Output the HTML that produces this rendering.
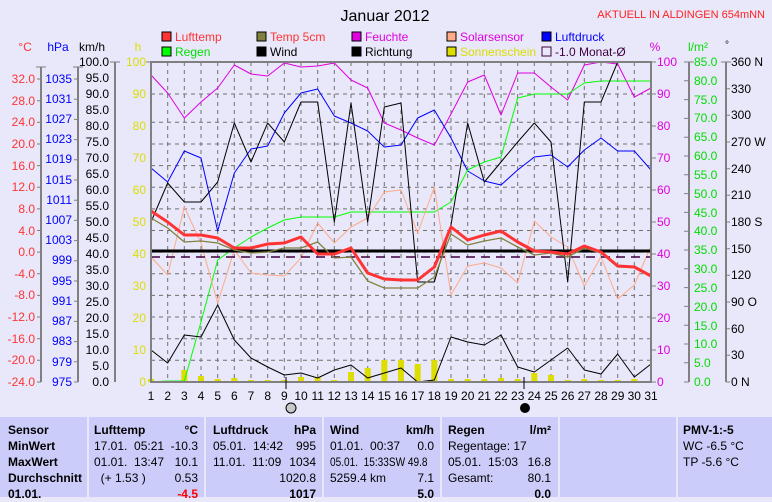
<!DOCTYPE html>
<html><head><meta charset="utf-8"><style>
html,body{margin:0;padding:0}
body{width:772px;height:490px;overflow:hidden;background:#e8e8fa;font-family:"Liberation Sans",sans-serif;position:relative}
svg{position:absolute;left:0;top:0}
.t{position:absolute;font-size:12px;white-space:nowrap;color:#000}
.b{font-weight:bold}
.r{text-align:right}
.cell{position:absolute;top:417px;height:80px;background:#ccccfa}
</style></head><body>
<svg width="772" height="420" viewBox="0 0 772 420" font-family="Liberation Sans, sans-serif">
<text x="385" y="21" font-size="16" text-anchor="middle">Januar 2012</text>
<text x="765" y="18" font-size="11" fill="#ff2020" text-anchor="end">AKTUELL IN ALDINGEN 654mNN</text>
<g font-size="12">
<rect x="162" y="32" width="9" height="9" fill="#ff3333" stroke="#000"/><text x="175" y="41" fill="#ff3333">Lufttemp</text>
<rect x="257" y="32" width="9" height="9" fill="#808040" stroke="#000"/><text x="270" y="41" fill="#ff3333">Temp 5cm</text>
<rect x="352" y="32" width="9" height="9" fill="#e000e0" stroke="#000"/><text x="365" y="41" fill="#e000e0">Feuchte</text>
<rect x="447" y="32" width="9" height="9" fill="#ffaa88" stroke="#000"/><text x="460" y="41" fill="#e000e0">Solarsensor</text>
<rect x="542" y="32" width="9" height="9" fill="#0000ff" stroke="#000"/><text x="555" y="41" fill="#0000ff">Luftdruck</text>
<rect x="162" y="47" width="9" height="9" fill="#00ff00" stroke="#000"/><text x="175" y="56" fill="#00dd00">Regen</text>
<rect x="257" y="47" width="9" height="9" fill="#000" stroke="#000"/><text x="270" y="56">Wind</text>
<rect x="352" y="47" width="9" height="9" fill="#000" stroke="#000"/><text x="365" y="56">Richtung</text>
<rect x="447" y="47" width="9" height="9" fill="#dddd00" stroke="#000"/><text x="460" y="56" fill="#dddd00">Sonnenschein</text>
<rect x="542" y="47" width="9" height="9" fill="none" stroke="#400040"/><text x="555" y="56" fill="#400040">-1.0 Monat-Ø</text>
</g>
<g font-size="12">
<text x="25" y="51" fill="#ff3333" text-anchor="middle">°C</text>
<text x="58" y="51" fill="#0000ff" text-anchor="middle">hPa</text>
<text x="92" y="51" text-anchor="middle">km/h</text>
<text x="138" y="51" fill="#dddd00" text-anchor="middle">h</text>
<text x="655" y="51" fill="#e000e0" text-anchor="middle">%</text>
<text x="698" y="51" fill="#00dd00" text-anchor="middle">l/m²</text>
<text x="727" y="48" text-anchor="middle" font-size="10">°</text>
</g>
<g stroke="#808080" stroke-width="2">
<line x1="41" y1="67" x2="41" y2="382"/><line x1="78" y1="67" x2="78" y2="382"/><line x1="115" y1="62" x2="115" y2="382"/>
<line x1="689" y1="62" x2="689" y2="382"/><line x1="726" y1="62" x2="726" y2="382"/>
</g>
<g stroke="#707070" stroke-width="1" stroke-dasharray="4,4" fill="none">
<path d="M151 94H651M151 122.3H651M151 144H651M151 165.6H651M151 187.2H651M151 208.9H651M151 230.5H651M151 252.1H651M151 273.8H651M151 295.4H651M151 317H651M151 338.7H651M151 360.3H651"/>
<path d="M167.7 62V382M184.3 62V382M201 62V382M217.7 62V382M234.3 62V382M251 62V382M267.7 62V382M284.3 62V382M301 62V382M317.7 62V382M334.3 62V382M351 62V382M367.7 62V382M384.3 62V382M401 62V382M417.7 62V382M434.3 62V382M451 62V382M467.7 62V382M484.3 62V382M501 62V382M517.7 62V382M534.3 62V382M551 62V382M567.7 62V382M584.3 62V382M601 62V382M617.7 62V382M634.3 62V382"/>
</g>
<g transform="translate(134.333,0) scale(16.6667,1)" fill="none" stroke-linejoin="round">
<g fill="#dddd00">
<rect x="0.82" y="379" width="0.36" height="3"/><rect x="2.82" y="370" width="0.36" height="12"/><rect x="3.82" y="376" width="0.36" height="6"/><rect x="4.82" y="379" width="0.36" height="3"/><rect x="5.82" y="378" width="0.36" height="4"/><rect x="6.82" y="380" width="0.36" height="2"/><rect x="7.82" y="380" width="0.36" height="2"/><rect x="8.82" y="380" width="0.36" height="2"/><rect x="9.82" y="377" width="0.36" height="5"/><rect x="10.82" y="377" width="0.36" height="5"/><rect x="11.82" y="380" width="0.36" height="2"/><rect x="12.82" y="372" width="0.36" height="10"/><rect x="13.82" y="368" width="0.36" height="14"/><rect x="14.82" y="360" width="0.36" height="22"/><rect x="15.82" y="360" width="0.36" height="22"/><rect x="16.82" y="364" width="0.36" height="18"/><rect x="17.82" y="360" width="0.36" height="22"/><rect x="18.82" y="379" width="0.36" height="3"/><rect x="19.82" y="379" width="0.36" height="3"/><rect x="20.82" y="379" width="0.36" height="3"/><rect x="21.82" y="378" width="0.36" height="4"/><rect x="22.82" y="379" width="0.36" height="3"/><rect x="23.82" y="373" width="0.36" height="9"/><rect x="24.82" y="375" width="0.36" height="7"/><rect x="25.82" y="380" width="0.36" height="2"/><rect x="26.82" y="379" width="0.36" height="3"/><rect x="27.82" y="380" width="0.36" height="2"/><rect x="28.82" y="380" width="0.36" height="2"/><rect x="29.82" y="379" width="0.36" height="3"/>
</g>
<polyline vector-effect="non-scaling-stroke" stroke="#e000e0" stroke-width="1" points="1,75 2,93 3,118 4,102 5,88 6,65 7,74 8,76 9,63 10,67 11,66 12,63 13,80 14,88 15,123 16,130 17,138 18,145 19,114 20,82 21,75 22,115 23,73 24,73 25,87 26,100 27,65 28,62 29,64 30,97 31,88"/>
<polyline vector-effect="non-scaling-stroke" stroke="#0000ff" stroke-width="1" points="1,168 2,182 3,151 4,158 5,231 6,173 7,149 8,146 9,113 10,93 11,89 12,116 13,123 14,131 15,147 16,145 17,118 18,110 19,138 20,171 21,181 22,185 23,170 24,157 25,155 26,167 27,150 28,138 29,151 30,151 31,170"/>
<polyline vector-effect="non-scaling-stroke" stroke="#00ff00" stroke-width="1" points="1,382 2,381 3,381 4,322 5,260 6,248 7,237 8,228 9,220 10,217 11,217 12,217 13,212 14,212 15,212 16,212 17,212 18,212 19,202 20,170 21,162 22,157 23,98 24,94 25,94 26,94 27,83 28,81 29,81 30,81 31,81"/>
<polyline vector-effect="non-scaling-stroke" stroke="#ffaa88" stroke-width="1" points="1,257 2,275 3,207 4,243 5,303 6,250 7,273 8,275 9,276 10,258 11,223 12,243 13,227 14,218 15,192 16,190 17,233 18,187 19,295 20,266 21,263 22,268 23,283 24,221 25,237 26,247 27,286 28,257 29,299 30,285 31,246"/>
<polyline vector-effect="non-scaling-stroke" stroke="#000" stroke-width="1" points="1,222 2,183 3,202 4,202 5,182 6,123 7,162 8,123 9,142 10,102 11,102 12,222 13,103 14,222 15,107 16,103 17,282 18,282 19,225 20,123 21,182 22,162 23,142 24,123 25,142 26,282 27,102 28,102 29,62 30,62 31,62"/>
<polyline vector-effect="non-scaling-stroke" stroke="#000" stroke-width="1" points="1,350 2,363 3,335 4,337 5,305 6,340 7,358 8,367 9,375 10,373 11,378 12,370 13,365 14,378 15,373 16,368 17,382 18,380 19,337 20,342 21,345 22,335 23,367 24,372 25,360 26,348 27,370 28,374 29,354 30,377 31,364"/>
<line vector-effect="non-scaling-stroke" x1="1" y1="257" x2="31" y2="257" stroke="#400040" stroke-width="1.5" stroke-dasharray="9,6"/>
<line vector-effect="non-scaling-stroke" x1="1" y1="251" x2="31" y2="251" stroke="#000" stroke-width="3"/>
<polyline vector-effect="non-scaling-stroke" stroke="#808040" stroke-width="1.3" points="1,218 2,228 3,242 4,241 5,243 6,250 7,253 8,252 9,248 10,248 11,242 12,258 13,257 14,281 15,288 16,288 17,288 18,277 19,234 20,245 21,241 22,238 23,247 24,255 25,253 26,257 27,248 28,253 29,267 30,267 31,276"/>
<polyline vector-effect="non-scaling-stroke" stroke="#ff3333" stroke-width="3" points="1,211 2,222 3,235 4,235 5,238 6,248 7,248 8,244 9,243 10,237 11,254 12,254 13,248 14,273 15,279 16,280 17,280 18,267 19,227 20,240 21,235 22,231 23,242 24,251 25,252 26,254 27,246 28,252 29,266 30,267 31,276"/>
</g>
<rect x="151" y="62" width="500" height="320" fill="none" stroke="#808080" stroke-width="2"/>
<line x1="286" y1="377" x2="286" y2="389" stroke="#000"/><line x1="524" y1="377" x2="524" y2="389" stroke="#000"/>
<circle cx="291" cy="408" r="5" fill="#c8c8c8" stroke="#000"/>
<circle cx="525" cy="408" r="5" fill="#000"/>
<g font-size="12" text-anchor="middle">
<text x="151" y="400">1</text><text x="167.7" y="400">2</text><text x="184.3" y="400">3</text><text x="201" y="400">4</text><text x="217.7" y="400">5</text><text x="234.3" y="400">6</text><text x="251" y="400">7</text><text x="267.7" y="400">8</text><text x="284.3" y="400">9</text><text x="301" y="400">10</text><text x="317.7" y="400">11</text><text x="334.3" y="400">12</text><text x="351" y="400">13</text><text x="367.7" y="400">14</text><text x="384.3" y="400">15</text><text x="401" y="400">16</text><text x="417.7" y="400">17</text><text x="434.3" y="400">18</text><text x="451" y="400">19</text><text x="467.7" y="400">20</text><text x="484.3" y="400">21</text><text x="501" y="400">22</text><text x="517.7" y="400">23</text><text x="534.3" y="400">24</text><text x="551" y="400">25</text><text x="567.7" y="400">26</text><text x="584.3" y="400">27</text><text x="601" y="400">28</text><text x="617.7" y="400">29</text><text x="634.3" y="400">30</text><text x="651" y="400">31</text>
</g>
<g font-size="12">
<g fill="#ff3333" text-anchor="end">
<text x="35" y="83">32.0</text><text x="35" y="105">28.0</text><text x="35" y="126">24.0</text><text x="35" y="148">20.0</text><text x="35" y="170">16.0</text><text x="35" y="191">12.0</text><text x="35" y="213">8.0</text><text x="35" y="235">4.0</text><text x="35" y="256">0.0</text><text x="35" y="278">-4.0</text><text x="35" y="299">-8.0</text><text x="35" y="321">-12.0</text><text x="35" y="343">-16.0</text><text x="35" y="364">-20.0</text><text x="35" y="386">-24.0</text>
</g>
<g fill="#0000ff" text-anchor="end">
<text x="72" y="83">1035</text><text x="72" y="103">1031</text><text x="72" y="123">1027</text><text x="72" y="143">1023</text><text x="72" y="163">1019</text><text x="72" y="184">1015</text><text x="72" y="204">1011</text><text x="72" y="224">1007</text><text x="72" y="244">1003</text><text x="72" y="264">999</text><text x="72" y="285">995</text><text x="72" y="305">991</text><text x="72" y="325">987</text><text x="72" y="345">983</text><text x="72" y="366">979</text><text x="72" y="386">975</text>
</g>
<g text-anchor="end">
<text x="109" y="66">100.0</text><text x="109" y="82">95.0</text><text x="109" y="98">90.0</text><text x="109" y="114">85.0</text><text x="109" y="130">80.0</text><text x="109" y="146">75.0</text><text x="109" y="162">70.0</text><text x="109" y="178">65.0</text><text x="109" y="194">60.0</text><text x="109" y="210">55.0</text><text x="109" y="226">50.0</text><text x="109" y="242">45.0</text><text x="109" y="258">40.0</text><text x="109" y="274">35.0</text><text x="109" y="290">30.0</text><text x="109" y="306">25.0</text><text x="109" y="322">20.0</text><text x="109" y="338">15.0</text><text x="109" y="354">10.0</text><text x="109" y="370">5.0</text><text x="109" y="386">0.0</text>
</g>
<g fill="#dddd00" text-anchor="end">
<text x="146" y="66">100</text><text x="146" y="98">90</text><text x="146" y="130">80</text><text x="146" y="162">70</text><text x="146" y="194">60</text><text x="146" y="226">50</text><text x="146" y="258">40</text><text x="146" y="290">30</text><text x="146" y="322">20</text><text x="146" y="354">10</text><text x="146" y="386">0</text>
</g>
<g fill="#e000e0">
<text x="657" y="66">100</text><text x="657" y="98">90</text><text x="657" y="130">80</text><text x="657" y="162">70</text><text x="657" y="194">60</text><text x="657" y="226">50</text><text x="657" y="258">40</text><text x="657" y="290">30</text><text x="657" y="322">20</text><text x="657" y="354">10</text><text x="657" y="386">0</text>
</g>
<g fill="#00dd00">
<text x="694" y="66">85.0</text><text x="694" y="85">80.0</text><text x="694" y="104">75.0</text><text x="694" y="122">70.0</text><text x="694" y="141">65.0</text><text x="694" y="160">60.0</text><text x="694" y="179">55.0</text><text x="694" y="198">50.0</text><text x="694" y="217">45.0</text><text x="694" y="235">40.0</text><text x="694" y="254">35.0</text><text x="694" y="273">30.0</text><text x="694" y="292">25.0</text><text x="694" y="311">20.0</text><text x="694" y="330">15.0</text><text x="694" y="348">10.0</text><text x="694" y="367">5.0</text><text x="694" y="386">0.0</text>
</g>
<g>
<text x="731" y="66">360 N</text><text x="731" y="93">330</text><text x="731" y="119">300</text><text x="731" y="146">270 W</text><text x="731" y="173">240</text><text x="731" y="199">210</text><text x="731" y="226">180 S</text><text x="731" y="253">150</text><text x="731" y="279">120</text><text x="731" y="306">90 O</text><text x="731" y="333">60</text><text x="731" y="359">30</text><text x="731" y="386">0 N</text>
</g>
</g>
<g stroke="#808080" stroke-width="1">
<path d="M36 67H46M73 67H83M110 62H120M146 62H151"/>
<path d="M37 79H41M37 100.7H41M37 122.3H41M37 144H41M37 165.6H41M37 187.2H41M37 208.9H41M37 230.5H41M37 252.1H41M37 273.8H41M37 295.4H41M37 317H41M37 338.7H41M37 360.3H41M37 382H41"/>
<path d="M74 79H78M74 99.2H78M74 119.4H78M74 139.6H78M74 159.8H78M74 180H78M74 200.2H78M74 220.4H78M74 240.6H78M74 260.8H78M74 281H78M74 301.2H78M74 321.4H78M74 341.6H78M74 361.8H78M74 382H78"/>
<path d="M651 62H656M651 94H656M651 126H656M651 158H656M651 190H656M651 222H656M651 254H656M651 286H656M651 318H656M651 350H656M651 382H656"/>
<path d="M684 62H694M684 80.8H689M684 99.6H689M684 118.4H689M684 137.2H689M684 156H689M684 174.8H689M684 193.6H689M684 212.4H689M684 231.2H689M684 250H689M684 268.8H689M684 287.6H689M684 306.4H689M684 325.2H689M684 344H689M684 362.8H689M684 382H689"/>
<path d="M721 62H731M726 88.7H730M726 115.3H730M726 142H730M726 168.7H730M726 195.3H730M726 222H730M726 248.7H730M726 275.3H730M726 302H730M726 328.7H730M726 355.3H730M726 382H730"/>
</g>
</svg>
<div class="cell" style="left:0;width:87px"></div>
<div class="cell" style="left:89px;width:115px"></div>
<div class="cell" style="left:206px;width:116px"></div>
<div class="cell" style="left:324px;width:116px"></div>
<div class="cell" style="left:442px;width:116px"></div>
<div class="cell" style="left:560px;width:116px"></div>
<div class="cell" style="left:678px;width:94px"></div>
<div class="t b" style="left:8px;top:422px;line-height:16px">Sensor<br>MinWert<br>MaxWert<br>Durchschnitt<br>01.01.</div>
<div class="t" style="left:94px;top:422px;line-height:16px"><b>Lufttemp</b><br>17.01.&nbsp; 05:21<br>01.01.&nbsp; 13:47<br>&nbsp;&nbsp;(+ 1.53 )</div>
<div class="t r" style="left:150px;width:48px;top:422px;line-height:16px"><b>°C</b><br>-10.3<br>10.1<br>0.53<br><b style="color:#ff0000">-4.5</b></div>
<div class="t" style="left:213px;top:422px;line-height:16px"><b>Luftdruck</b><br>05.01.&nbsp; 14:42<br>11.01.&nbsp; 11:09</div>
<div class="t r" style="left:260px;width:56px;top:422px;line-height:16px"><b>hPa</b><br>995<br>1034<br>1020.8<br><b>1017</b></div>
<div class="t" style="left:330px;top:422px;line-height:16px"><b>Wind</b><br>01.01.&nbsp; 00:37<br>&nbsp;<br>5259.4 km</div>
<div class="t" style="left:330px;top:454px;line-height:16px;transform:scaleX(0.84);transform-origin:0 0">05.01.&nbsp; 15:33SW 49.8</div>
<div class="t r" style="left:380px;width:54px;top:422px;line-height:16px"><b>km/h</b><br>0.0<br>&nbsp;<br>7.1<br><b>5.0</b></div>
<div class="t" style="left:448px;top:422px;line-height:16px"><b>Regen</b><br>Regentage: 17<br>05.01.&nbsp; 15:03<br>Gesamt:</div>
<div class="t r" style="left:500px;width:51px;top:422px;line-height:16px"><b>l/m²</b><br>&nbsp;<br>16.8<br>80.1<br><b>0.0</b></div>
<div class="t" style="left:683px;top:422px;line-height:16px"><b>PMV-1:-5</b><br>WC -6.5 °C<br>TP -5.6 °C</div>
</body></html>
